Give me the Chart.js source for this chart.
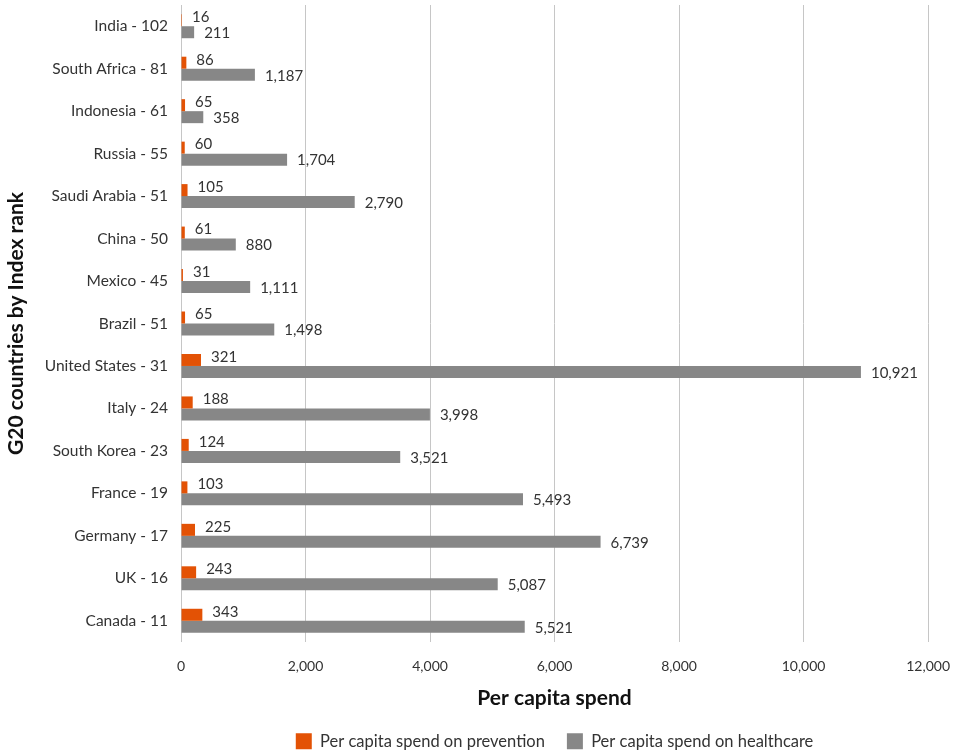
<!DOCTYPE html>
<html>
<head>
<meta charset="utf-8">
<script src="https://cdn.jsdelivr.net/npm/chart.js@4.4.0/dist/chart.umd.min.js"></script>
<style>
  html, body { margin: 0; padding: 0; background: #fff; }
  #wrap { width: 966px; height: 752px; position: relative; }
</style>
</head>
<body>
<div id="wrap"><canvas id="spend"></canvas></div>
<script>
const countries = [
  "India - 102", "South Africa - 81", "Indonesia - 61", "Russia - 55",
  "Saudi Arabia - 51", "China - 50", "Mexico - 45", "Brazil - 51",
  "United States - 31", "Italy - 24", "South Korea - 23", "France - 19",
  "Germany - 17", "UK - 16", "Canada - 11"
];
const prevention = [16, 86, 65, 60, 105, 61, 31, 65, 321, 188, 124, 103, 225, 243, 343];
const healthcare = [211, 1187, 358, 1704, 2790, 880, 1111, 1498, 10921, 3998, 3521, 5493, 6739, 5087, 5521];
const xTicks = [0, 2000, 4000, 6000, 8000, 10000, 12000];

const FONT = "Lato, 'Open Sans', sans-serif";

// value labels next to the end of each bar
const barLabels = {
  id: "barLabels",
  afterDatasetsDraw(chart) {
    const ctx = chart.ctx;
    ctx.save();
    ctx.font = "15px " + FONT;
    ctx.fillStyle = "#333";
    ctx.textBaseline = "middle";
    chart.data.datasets.forEach((ds, i) => {
      const meta = chart.getDatasetMeta(i);
      meta.data.forEach((bar, j) => {
        const txt = ds.data[j].toLocaleString("en-US");
        const dy = i === 0 ? -3 : 1;
        ctx.fillText(txt, bar.x + 10, bar.y + dy);
      });
    });
    ctx.restore();
  }
};

new Chart(document.getElementById("spend").getContext("2d"), {
  type: "bar",
  data: {
    labels: countries,
    datasets: [
      {
        label: "Per capita spend on prevention",
        data: prevention,
        backgroundColor: "#E35205",
        barPercentage: 1,
        categoryPercentage: 0.565,
      },
      {
        label: "Per capita spend on healthcare",
        data: healthcare,
        backgroundColor: "#878787",
        barPercentage: 1,
        categoryPercentage: 0.565,
      },
    ],
  },
  options: {
    indexAxis: "y",
    responsive: true,
    maintainAspectRatio: false,
    animation: false,
    layout: { padding: { top: 5, right: 36, left: 0, bottom: 0 } },
    plugins: {
      tooltip: { enabled: false },
      legend: {
        position: "bottom",
        fullSize: false,
        maxHeight: 41,
        labels: {
          font: { family: FONT, size: 16.5 },
          color: "#333",
          boxWidth: 16,
          boxHeight: 16,
          padding: 22,
        },
      },
    },
    scales: {
      x: {
        min: 0,
        max: 12000,
        afterBuildTicks: (s) => { s.ticks = xTicks.map((v) => ({ value: v })); },
        afterFit: (s) => { s.height = 69; },
        grid: { color: "#c6c6c6", lineWidth: 1, drawTicks: false },
        border: { display: false },
        ticks: {
          padding: 16,
          color: "#333",
          font: { family: FONT, size: 14 },
          callback: (v) => v.toLocaleString("en-US"),
        },
        title: {
          display: true,
          text: "Per capita spend",
          color: "#111",
          font: { family: FONT, size: 21, weight: "bold" },
          padding: 0,
        },
      },
      y: {
        grid: { display: false, drawTicks: false },
        border: { display: false },
        afterFit: (s) => { s.width = 181; s.paddingTop = 0; s.paddingBottom = 0; },
        ticks: {
          padding: 13,
          color: "#333",
          font: { family: FONT, size: 15.5 },
        },
        title: {
          display: true,
          text: "G20 countries by Index rank",
          color: "#111",
          font: { family: FONT, size: 21, weight: "bold" },
        },
      },
    },
  },
  plugins: [barLabels],
});
</script>
</body>
</html>
